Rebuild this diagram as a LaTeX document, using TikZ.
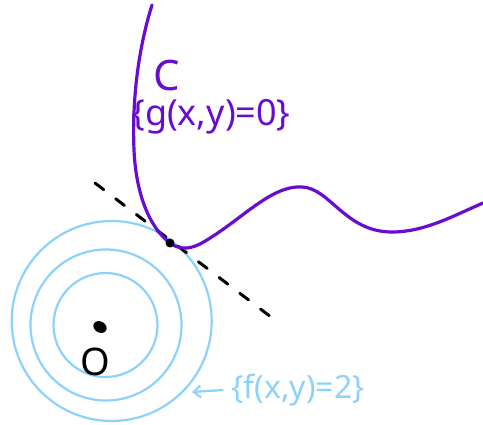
\documentclass[tikz,border=0pt]{standalone}
\usepackage{fontspec}
\setmainfont{Noto Sans}
\usetikzlibrary{arrows.meta}
\definecolor{curvepurple}{RGB}{104,12,210}
\definecolor{levelblue}{RGB}{140,210,250}
\tikzset{
  level/.style={draw=levelblue, line width=2.2pt},
  curve/.style={draw=curvepurple, line width=3.2pt, line cap=round},
  tangentline/.style={draw=black, line width=3pt, dash pattern=on 11pt off 15pt, line cap=round},
  purpletext/.style={text=curvepurple, inner sep=0pt},
  bluetext/.style={text=levelblue, inner sep=0pt},
}
\begin{document}
\begin{tikzpicture}[x=1pt,y=-1pt]
\useasboundingbox (0,0) rectangle (483,424);
% level curves
\draw[level] (111.7,321) circle[radius=100];
\draw[level] (106,325) circle[radius=75.5];
\draw[level] (105.5,325) circle[radius=52];
% center point and label
\fill[black, rotate around={-30:(100,327)}] (100,327) ellipse[x radius=7, y radius=5.5];
\node[inner sep=0pt, font=\fontsize{38}{40}\selectfont] (olabel) at (95,362) {O};
% tangent line
\coordinate (tA) at (95,183);
\coordinate (tB) at (271,317);
\draw[tangentline] (tA) -- (tB);
% curve C
\coordinate (tp) at (170,243);
\draw[curve] (152,5) .. controls (138,50) and (132,100) .. (134,150)
  .. controls (136,195) and (150,228) .. (tp)
  .. controls (178,249) and (188,250) .. (200,244)
  .. controls (240,222) and (270,185) .. (302,187)
  .. controls (330,188) and (345,232) .. (392,232)
  .. controls (425,232) and (455,215) .. (483,203);
\fill[black] (tp) circle[radius=4.5];
% labels
\node[purpletext, font=\fontsize{42}{44}\selectfont] (clabel) at (167,76) {C};
\node[purpletext, font=\fontsize{36}{40}\selectfont] (glabel) at (211,117) {\{g(x,y)=0\}};
\node[bluetext, font=\fontsize{32}{36}\selectfont] (flabel) at (298,390) {\{f(x,y)=2\}};
\coordinate (arrowtip) at (192,392);
\draw[levelblue, line width=2.2pt, -{Straight Barb[length=7pt,width=12pt]}] ([xshift=-8pt]flabel.west) -- (arrowtip);
\end{tikzpicture}
\end{document}
